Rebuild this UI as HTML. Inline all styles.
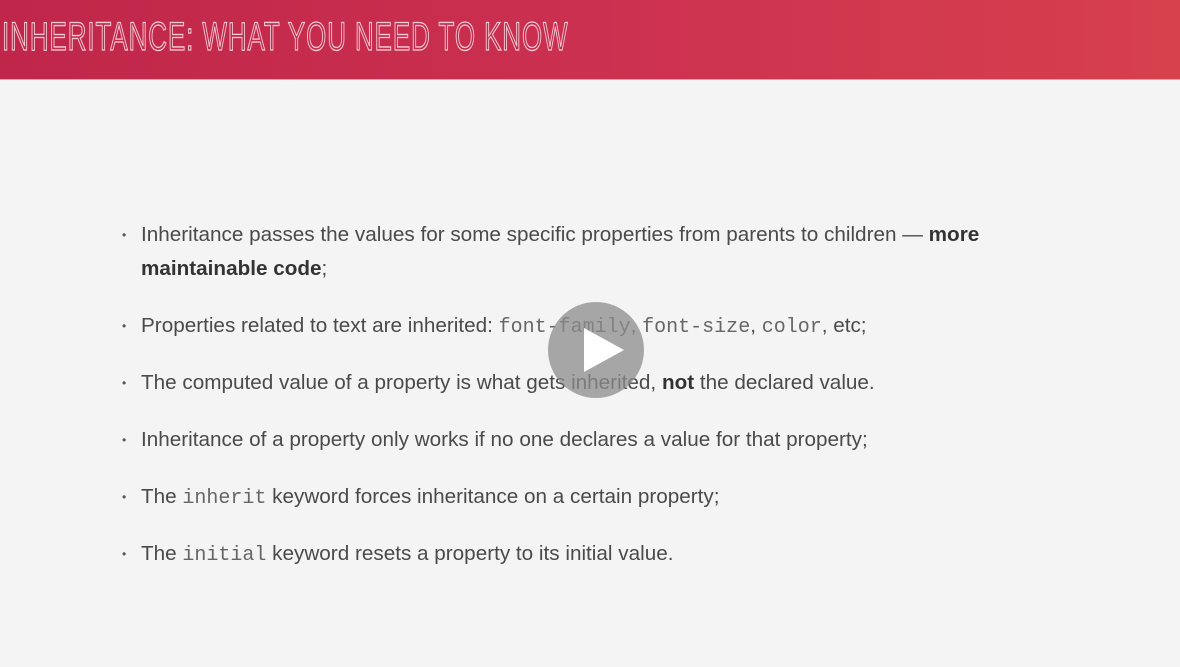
<!DOCTYPE html>
<html><head><meta charset="utf-8"><style>
body{margin:0;width:1180px;height:667px;background:#f4f4f4;overflow:hidden;position:relative;font-family:"Liberation Sans",sans-serif}
#hdr{position:absolute;left:0;top:0;width:1180px;height:79px;background:linear-gradient(90deg,#bf2649,#cc3050 50%,#d7404d);border-bottom:1px solid #e8a0b0}
#title{position:absolute;left:2px;top:15px;font-size:40px;font-weight:normal;color:#c22c4c;-webkit-text-stroke:1.3px #f6ccd6;letter-spacing:1.5px;transform:scaleX(0.647);transform-origin:left top;white-space:nowrap}
.li{position:absolute;left:141px;font-size:20.7px;color:#4a4a4a;white-space:nowrap;line-height:34px}
.li::before{content:"•";position:absolute;left:-19px;top:0;font-size:12px;color:#555}
code{font-family:"Liberation Mono",monospace;font-size:20px;color:#666}
b{color:#333}
#play{position:absolute;left:548px;top:302px;width:96px;height:96px;border-radius:50%;background:rgba(140,140,140,0.75)}
#play::after{content:"";position:absolute;left:36px;top:26px;border-left:40px solid #fff;border-top:22px solid transparent;border-bottom:22px solid transparent}
</style></head><body>
<div id="hdr"><div id="title">INHERITANCE: WHAT YOU NEED TO KNOW</div></div>
<div class="li" style="top:218px">Inheritance passes the values for some specific properties from parents to children — <b>more</b><br><b>maintainable code</b>;</div>
<div class="li" style="top:309px">Properties related to text are inherited: <code>font-family</code>, <code>font-size</code>, <code>color</code>, etc;</div>
<div class="li" style="top:366px">The computed value of a property is what gets inherited, <b>not</b> the declared value.</div>
<div class="li" style="top:423px">Inheritance of a property only works if no one declares a value for that property;</div>
<div class="li" style="top:480px">The <code>inherit</code> keyword forces inheritance on a certain property;</div>
<div class="li" style="top:537px">The <code>initial</code> keyword resets a property to its initial value.</div>
<div id="play"></div>
</body></html>
